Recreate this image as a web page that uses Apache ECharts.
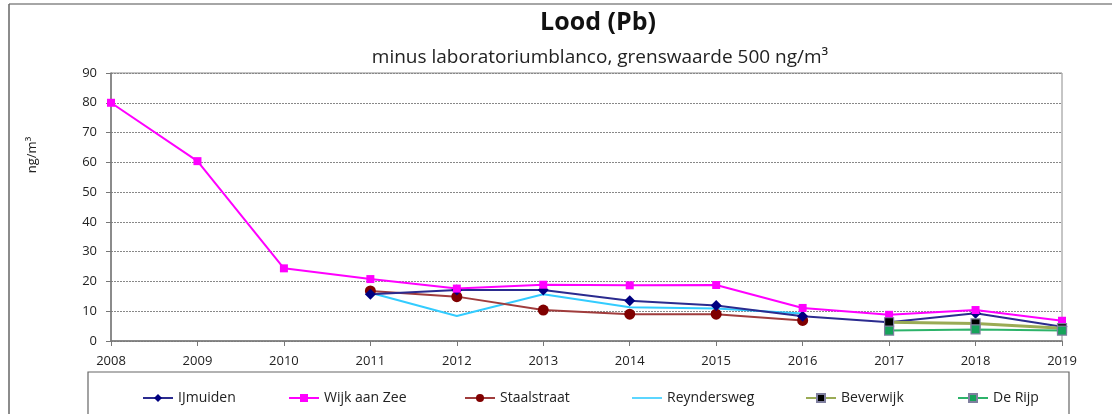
<!DOCTYPE html>
<html>
<head>
<meta charset="utf-8">
<script src="https://cdn.jsdelivr.net/npm/echarts@6/dist/echarts.min.js"></script>
<style>
html,body{margin:0;padding:0;background:#fff;}
#c{width:1112px;height:414px;}
</style>
</head>
<body>
<div id="c"></div>
<script>
const years = ['2008','2009','2010','2011','2012','2013','2014','2015','2016','2017','2018','2019'];
const yTicks = [0,10,20,30,40,50,60,70,80,90];
const ijmuiden    = [null,null,null,15.7,17.1,17.1,13.5,11.9,8.3,6.3,9.3,4.8];
const wijkAanZee  = [80,60.4,24.4,20.8,17.6,18.9,18.7,18.8,11.1,8.8,10.4,6.8];
const staalstraat = [null,null,null,16.8,14.9,10.4,9.0,9.0,6.9,null,null,null];
const reyndersweg = [null,null,null,16.2,8.4,15.7,11.3,10.9,9.2,null,null,null];
const beverwijk   = [null,null,null,null,null,null,null,null,null,6.3,5.9,4.3];
const deRijp      = [null,null,null,null,null,null,null,null,null,3.5,3.9,3.5];

const FONT = '"Open Sans", "Noto Sans", sans-serif';
const chart = echarts.init(document.getElementById('c'), null, {renderer:'canvas'});

function ser(name, data, lineColor, symbol, size, fill, border, z, lw){
  return {
    name, type:'line', data, symbol, symbolSize:size, showAllSymbol:true,
    connectNulls:false, z:z,
    lineStyle:{color:lineColor, width:lw||2},
    itemStyle:{color:fill, borderColor:border||fill, borderWidth:border?1.2:0},
    emphasis:{disabled:true}
  };
}

const legendLefts = [137,283,459,627,800,952];
const names = ['IJmuiden','Wijk aan Zee','Staalstraat','Reyndersweg','Beverwijk','De Rijp'];
const legends = names.map((n,i)=>({
  data:[n==='Reyndersweg'?{name:n, icon:'path://M0,4.2 L30,4.2 L30,5.8 L0,5.8 Z'}:n],
  left:legendLefts[i], top:386, itemWidth:30, itemHeight:10, itemGap:4,
  textStyle:{fontFamily:FONT, fontSize:14, color:'#222'}, selectedMode:false
}));

chart.setOption({
  animation:false,
  backgroundColor:'#fff',
  grid:{left:111, top:73, width:951, height:268, containLabel:false,
        show:true, borderColor:'#8c8c8c', borderWidth:1},
  xAxis:{
    type:'category', data:years, boundaryGap:false,
    axisLine:{lineStyle:{color:'#777', width:1.5}},
    axisTick:{show:true, length:5, lineStyle:{color:'#777'}, alignWithLabel:true},
    axisLabel:{margin:14, fontFamily:FONT, fontSize:13, color:'#222', interval:0},
    splitLine:{show:false}
  },
  yAxis:{
    type:'value', min:0, max:90, interval:10,
    axisLine:{show:true, lineStyle:{color:'#777', width:1.5}},
    axisTick:{show:true, length:5, lineStyle:{color:'#777'}},
    axisLabel:{margin:14, fontFamily:FONT, fontSize:13, color:'#222',
      formatter:v=>yTicks.includes(v)?String(v):''},
    splitLine:{show:true, lineStyle:{color:'#888', type:[2,1], width:1}}
  },
  legend:legends,
  series:[
    ser('IJmuiden', ijmuiden, '#2b2b8f', 'diamond', 11, '#000080', null, 5),
    ser('Wijk aan Zee', wijkAanZee, '#ff00ff', 'rect', 8, '#ff00ff', null, 6),
    ser('Staalstraat', staalstraat, '#a03c3c', 'circle', 11, '#800000', null, 4),
    ser('Reyndersweg', reyndersweg, '#33ccff', 'none', 1, '#33ccff', null, 3),
    ser('Beverwijk', beverwijk, '#9aab55', 'rect', 9, '#000000', '#7f7f9f', 7, 3),
    ser('De Rijp', deRijp, '#2db36a', 'rect', 9, '#16a35a', '#7f7f9f', 8)
  ],
  graphic:[
    {type:'line', shape:{x1:9,y1:4,x2:1112,y2:4}, style:{stroke:'#888', lineWidth:1.5}},
    {type:'line', shape:{x1:9,y1:4,x2:9,y2:414}, style:{stroke:'#666', lineWidth:1.5}},
    {type:'rect', shape:{x:88,y:372,width:981,height:60}, style:{fill:'none', stroke:'#666', lineWidth:1.2}},
    {type:'text', x:598, y:23, style:{text:'Lood (Pb)', font:'bold 25px '+FONT, fill:'#111', textAlign:'center', textVerticalAlign:'middle'}},
    {type:'text', x:600, y:58, style:{text:'minus laboratoriumblanco, grenswaarde 500 ng/m³', font:'19px '+FONT, fill:'#222', textAlign:'center', textVerticalAlign:'middle'}},
    {type:'text', x:32, y:155, rotation:Math.PI/2, style:{text:'ng/m³', font:'13px '+FONT, fill:'#222', textAlign:'center', textVerticalAlign:'middle'}}
  ]
});
</script>
</body>
</html>
